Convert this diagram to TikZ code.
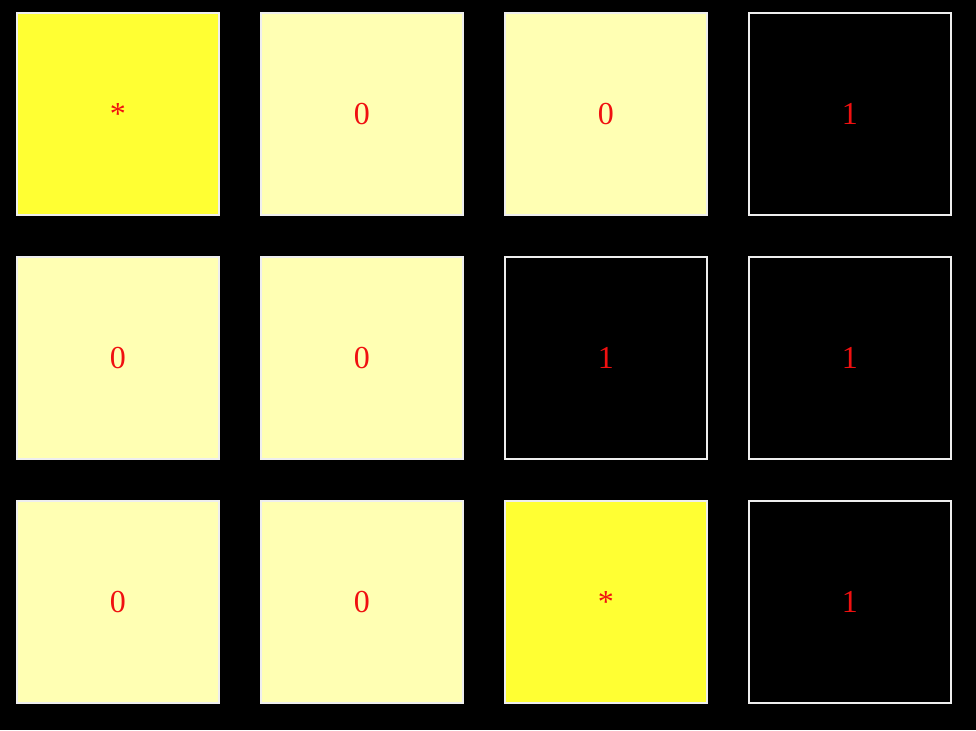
\documentclass[tikz,border=0pt]{standalone}
\usepackage{fontspec}
\setmainfont{Liberation Serif}
\usepackage{xcolor}
\definecolor{amarelo}{HTML}{FFFF33}
\definecolor{claro}{HTML}{FFFFB3}
\definecolor{borda}{HTML}{EEEEEE}
\definecolor{texto}{HTML}{F01010}

\begin{document}
\begin{tikzpicture}[x=1pt,y=1pt,
	celula/.style={draw=borda,line width=2pt,minimum size=202pt,inner sep=0pt,
		text=texto,font=\fontsize{32}{36}\selectfont},
	marcada/.style={celula,fill=amarelo},
	livre/.style={celula,fill=claro},
	cheia/.style={celula,fill=black}]
	
	% Fundo
	\fill[black] (0,0) rectangle (976,-730);
	\useasboundingbox (0,0) rectangle (976,-730);
	
	% Linha 1
	\node[marcada] (c11) at (117.75,-113.75) {*};
	\node[livre] (c12) at (361.75,-113.75) {0};
	\node[livre] (c13) at (605.75,-113.75) {0};
	\node[cheia] (c14) at (849.75,-113.75) {1};
	
	% Linha 2
	\node[livre] (c21) at (117.75,-357.75) {0};
	\node[livre] (c22) at (361.75,-357.75) {0};
	\node[cheia] (c23) at (605.75,-357.75) {1};
	\node[cheia] (c24) at (849.75,-357.75) {1};
	
	% Linha 3
	\node[livre] (c31) at (117.75,-601.75) {0};
	\node[livre] (c32) at (361.75,-601.75) {0};
	\node[marcada] (c33) at (605.75,-601.75) {*};
	\node[cheia] (c34) at (849.75,-601.75) {1};
\end{tikzpicture}
\end{document}
